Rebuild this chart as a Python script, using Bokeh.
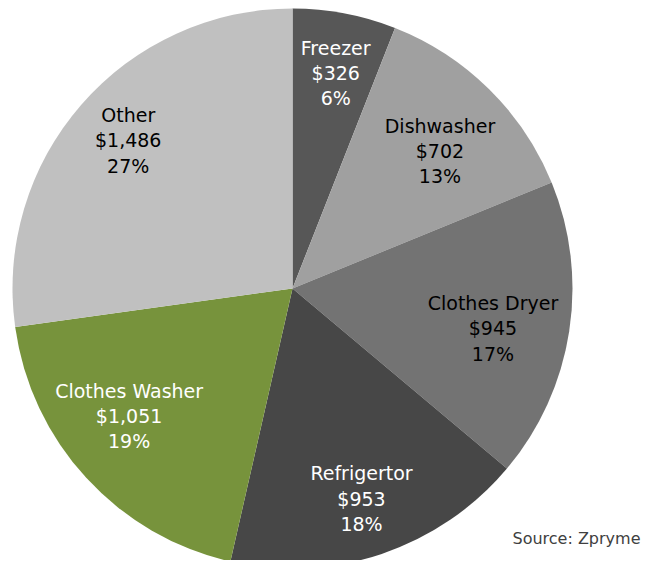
import math
from bokeh.plotting import figure
from bokeh.models import ColumnDataSource, Range1d
from bokeh.core.properties import value
from bokeh.embed import file_html
from bokeh.resources import INLINE

categories = ["Freezer", "Dishwasher", "Clothes Dryer", "Refrigertor", "Clothes Washer", "Other"]
values = [326, 702, 945, 953, 1051, 1486]
percent_labels = ["6%", "13%", "17%", "18%", "19%", "27%"]
colors = ["#575757", "#a0a0a0", "#737373", "#474747", "#77933c", "#c0c0c0"]
text_colors = ["white", "black", "black", "white", "white", "black"]
label_radius_frac = [0.785, 0.72, 0.73, 0.79, 0.74, 0.79]
label_angle_shift = [0.6, 2.4, 2.4, 0.4, 4.6, 1.0]
source_note = "Source: Zpryme"

W, H = 641, 560
cx, cy, R = 292, H - 288, 280

total = sum(values)
starts, ends, lx, ly, labels = [], [], [], [], []
cum = 0.0
for i, v in enumerate(values):
    a0 = cum / total
    cum += v
    a1 = cum / total
    # clockwise from 12 o'clock
    starts.append(math.pi / 2 - a1 * 2 * math.pi)
    ends.append(math.pi / 2 - a0 * 2 * math.pi)
    mid = (a0 + a1) / 2 * 360 + label_angle_shift[i]
    rr = label_radius_frac[i] * R
    lx.append(cx + rr * math.sin(math.radians(mid)))
    ly.append(cy + rr * math.cos(math.radians(mid)))
    labels.append(f"{categories[i]}\n${v:,}\n{percent_labels[i]}")

src = ColumnDataSource(dict(start=starts, end=ends, color=colors,
                            lx=lx, ly=ly, label=labels, tcolor=text_colors))

p = figure(width=W, height=H, output_backend="svg", toolbar_location=None,
           x_range=Range1d(0, W), y_range=Range1d(0, H), min_border=0)
p.axis.visible = False
p.grid.visible = False
p.outline_line_color = None
p.background_fill_color = "white"

p.wedge(x=cx, y=cy, radius=R, start_angle="start", end_angle="end",
        fill_color="color", line_color=None, source=src)

p.text(x="lx", y="ly", text="label", source=src, text_color="tcolor",
       text_align="center", text_baseline="middle",
       text_font=value("DejaVu Sans"), text_font_size="19px", text_line_height=1.15)

p.text(x=[640], y=[H - 538], text=[source_note], text_align="right",
       text_baseline="middle", text_color="#404040",
       text_font=value("DejaVu Sans"), text_font_size="16px")

open("out.html", "w").write(file_html(p, INLINE))
